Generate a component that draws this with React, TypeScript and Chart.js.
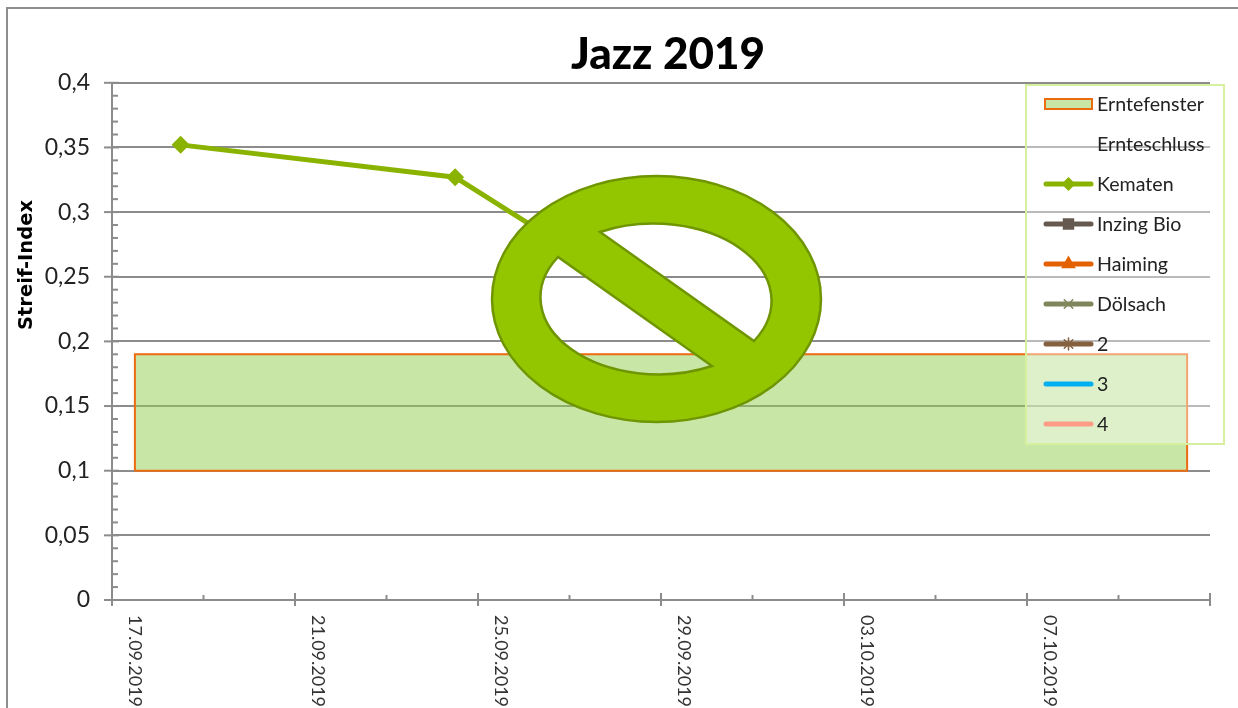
import React, { useEffect, useRef } from "react";
import { Chart, registerables } from "chart.js";
import { drawPoint } from "chart.js/helpers";

Chart.register(...registerables);

const dates = [
  "17.09.2019", "18.09.2019", "19.09.2019", "20.09.2019", "21.09.2019", "22.09.2019",
  "23.09.2019", "24.09.2019", "25.09.2019", "26.09.2019", "27.09.2019", "28.09.2019",
  "29.09.2019", "30.09.2019", "01.10.2019", "02.10.2019", "03.10.2019", "04.10.2019",
  "05.10.2019", "06.10.2019", "07.10.2019", "08.10.2019", "09.10.2019", "10.10.2019",
];
const fensterDates = ["17.09.2019", "17.09.2019", "10.10.2019", "10.10.2019", "17.09.2019"];
const fensterValues = [0.1, 0.19, 0.19, 0.1, 0.1];
const kematenDates = ["18.09.2019", "24.09.2019", "28.09.2019"];
const kematenValues = [0.352, 0.327, 0.2375];
const yAxisTitle = "Streif-Index";

const FONT = "Lato";
const AXIS = "#8c8c8c";
const NO_SIGN =
  "M492 299 A164.5 123 0 1 1 821 299 A164.5 123 0 1 1 492 299 Z " +
  "M600 232 A118 77 0 0 1 754 341 Z " +
  "M712 366 A118 77 0 0 1 558 257 Z";

const decor = {
  id: "decor",
  beforeDraw(chart: any) {
    const { ctx } = chart;
    ctx.save();
    ctx.fillStyle = "#fff";
    ctx.fillRect(0, 0, chart.width, chart.height);
    ctx.strokeStyle = "#8e8e8e";
    ctx.lineWidth = 2;
    ctx.beginPath();
    ctx.moveTo(7, chart.height);
    ctx.lineTo(7, 8);
    ctx.lineTo(chart.width, 8);
    ctx.stroke();
    // axis title
    ctx.translate(27, 265);
    ctx.rotate(-Math.PI / 2);
    ctx.fillStyle = "#000";
    ctx.font = `bold 19.5px "DejaVu Sans"`;
    ctx.textAlign = "center";
    ctx.textBaseline = "middle";
    ctx.fillText(yAxisTitle, 0, 0);
    ctx.restore();
  },
  afterLayout(chart: any) {
    chart.titleBlock.left += 7;
    chart.titleBlock.right += 7;
  },
  afterDatasetsDraw(chart: any) {
    const { ctx, scales, chartArea } = chart;
    const y = scales.y;
    ctx.save();
    ctx.strokeStyle = AXIS;
    ctx.lineWidth = 2;
    const line = (a: number, b: number, c: number, d: number) => {
      ctx.beginPath();
      ctx.moveTo(a, b);
      ctx.lineTo(c, d);
      ctx.stroke();
    };
    line(chartArea.left, chartArea.top, chartArea.left, chartArea.bottom);
    line(chartArea.left, chartArea.bottom, chartArea.right, chartArea.bottom);
    const slot = (chartArea.right - chartArea.left) / dates.length;
    for (let i = 0; i <= dates.length; i += 2) {
      const px = chartArea.left + i * slot;
      if (i % 4 === 0) line(px, chartArea.bottom - 7, px, chartArea.bottom + 6);
      else line(px, chartArea.bottom - 5, px, chartArea.bottom);
    }
    y.ticks.forEach((t: any, i: number) => {
      const py = y.getPixelForTick(i);
      if (Math.round(t.value * 100) % 5 === 0) line(chartArea.left - 8, py, chartArea.left + 7, py);
      else line(chartArea.left, py, chartArea.left + 6, py);
    });
    ctx.restore();
  },
  afterDraw(chart: any) {
    const { ctx } = chart;
    ctx.save();
    // overlay sign
    const sign = new Path2D(NO_SIGN);
    ctx.fillStyle = "#94c600";
    ctx.fill(sign, "evenodd");
    ctx.strokeStyle = "#6f9500";
    ctx.lineWidth = 2.5;
    ctx.stroke(sign);
    // legend
    const lx = 1026, ly = 85, lw = 198, lh = 359;
    ctx.fillStyle = "rgba(255,255,255,0.4)";
    ctx.fillRect(lx, ly, lw, lh);
    ctx.strokeStyle = "#d6f0a0";
    ctx.lineWidth = 2;
    ctx.strokeRect(lx, ly, lw, lh);
    ctx.font = `19.6px ${FONT}`;
    ctx.textBaseline = "middle";
    chart.data.datasets.forEach((d: any, i: number) => {
      const cy = ly + 19 + i * 40;
      if (d.fill === "shape") {
        ctx.fillStyle = d.backgroundColor;
        ctx.fillRect(1045, cy - 5, 47, 10);
        ctx.strokeStyle = d.borderColor;
        ctx.lineWidth = 2;
        ctx.strokeRect(1045, cy - 5, 47, 10);
      } else if (d.showLegendLine !== false) {
        ctx.strokeStyle = d.borderColor;
        ctx.lineWidth = 5;
        ctx.lineCap = "round";
        ctx.beginPath();
        ctx.moveTo(1046, cy);
        ctx.lineTo(1091, cy);
        ctx.stroke();
        if (d.pointStyle) {
          ctx.fillStyle = d.borderColor;
          ctx.strokeStyle = d.borderColor;
          ctx.lineWidth = 1.5;
          drawPoint(ctx, { pointStyle: d.pointStyle, radius: d.legendRadius, rotation: 0, borderWidth: 1.5 }, 1068.5, cy);
        }
      }
      ctx.fillStyle = "#222";
      ctx.fillText(d.label, 1097, cy + 1);
    });
    ctx.restore();
  },
};

const series = (label: string, color: string, pointStyle: any, legendRadius: number, xs: string[] = [], ys: number[] = []) => ({
  type: "line",
  label,
  data: xs.map((x, i) => ({ x, y: ys[i] })),
  borderColor: color,
  backgroundColor: color,
  borderWidth: 5,
  pointStyle,
  pointRadius: pointStyle ? 9 : 0,
  pointBorderWidth: 0,
  legendRadius,
  tension: 0,
  fill: false,
  order: 1,
});

export default function App() {
  const ref = useRef<HTMLCanvasElement>(null);
  useEffect(() => {
    const chart = new Chart(ref.current!, {
      type: "line",
      data: {
        labels: dates,
        datasets: [
          {
            label: "Erntefenster",
            data: fensterDates.map((x, i) => ({ x, y: fensterValues[i] })),
            borderColor: "#ec6a10",
            backgroundColor: "rgba(146,208,80,0.5)",
            borderWidth: 2,
            pointRadius: 0,
            tension: 0,
            fill: "shape",
            order: 2,
          },
          { ...series("Ernteschluss", "rgba(0,0,0,0)", false, 0), showLegendLine: false },
          series("Kematen", "#8ab300", "rectRot", 6, kematenDates, kematenValues),
          series("Inzing Bio", "#665a50", "rect", 7),
          series("Haiming", "#e36100", "triangle", 7),
          series("Dölsach", "#80865c", "crossRot", 6),
          series("2", "#85603f", "star", 6),
          series("3", "#00b0f0", false, 0),
          series("4", "#ff9c85", false, 0),
        ] as any,
      },
      options: {
        responsive: false,
        animation: false,
        layout: { padding: { left: 0, right: 28, top: 28, bottom: 0 } },
        plugins: {
          legend: { display: false },
          tooltip: { enabled: false },
          title: {
            display: true,
            text: "Jazz 2019",
            fullSize: false,
            color: "#000",
            font: { family: FONT, size: 44, weight: 900 },
            padding: { top: 0, bottom: 2 },
          },
        },
        scales: {
          x: {
            type: "category",
            offset: true,
            grid: { display: false, drawTicks: false },
            border: { display: false },
            afterFit: (s: any) => {
              s.height = 108;
              // clockwise date labels must start at the axis, not end there
              s._getXAxisLabelAlignment = () => "left";
            },
            ticks: {
              autoSkip: false,
              minRotation: -90,
              maxRotation: -90,
              padding: 15,
              color: "#333",
              font: { family: FONT, size: 18 },
              callback: (_v: any, i: number) => (i % 4 === 0 && i < 24 ? dates[i] : ""),
            },
          },
          y: {
            min: 0,
            max: 0.4,
            afterFit: (s: any) => { s.width = 112; },
            border: { display: false },
            grid: {
              drawTicks: false,
              lineWidth: 2,
              color: (c: any) => (Math.round(c.tick.value * 100) % 5 === 0 ? AXIS : "rgba(0,0,0,0)"),
            },
            ticks: {
              stepSize: 0.01,
              autoSkip: false,
              padding: 22,
              color: "#222",
              font: { family: FONT, size: 23 },
              callback: (v: any) => {
                const n = Math.round(Number(v) * 100);
                return n % 5 === 0 ? String(n / 100).replace(".", ",") : "";
              },
            },
          },
        },
      } as any,
      plugins: [decor],
    });
    return () => chart.destroy();
  }, []);
  return (
    <div style={{ position: "fixed", left: 0, top: 0, width: 1238, height: 708, overflow: "hidden" }}>
      <canvas ref={ref} width={1238} height={708} style={{ display: "block" }} />
    </div>
  );
}
